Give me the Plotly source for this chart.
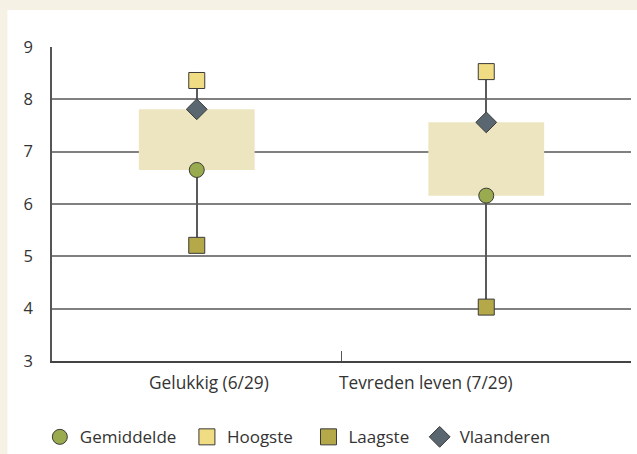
import plotly.graph_objects as go

categories = ["Gelukkig (6/29)", "Tevreden leven (7/29)"]
gemiddelde = [6.65, 6.16]
hoogste = [8.36, 8.53]
laagste = [5.21, 4.03]
vlaanderen = [7.81, 7.56]

FONT = "Open Sans"
fig = go.Figure()

# whisker from lowest to highest (drawn as thin bar so box covers it)
fig.add_trace(go.Bar(x=categories, y=[h - l for h, l in zip(hoogste, laagste)], base=laagste,
                     width=0.005, marker=dict(color="#5a5a5a", line=dict(width=0)),
                     showlegend=False, hoverinfo="skip"))
# box from mean to Vlaanderen
fig.add_trace(go.Bar(x=categories, y=[v - g for v, g in zip(vlaanderen, gemiddelde)], base=gemiddelde,
                     width=0.4, marker=dict(color="#ede5bf", line=dict(width=0)),
                     showlegend=False, hoverinfo="skip"))

outline = dict(color="#3a3a3a", width=1)
fig.add_trace(go.Scatter(x=categories, y=gemiddelde, mode="markers", name="Gemiddelde", legend="legend",
                         marker=dict(symbol="circle", size=15, color="#9aab4f", line=outline)))
fig.add_trace(go.Scatter(x=categories, y=hoogste, mode="markers", name="Hoogste", legend="legend2",
                         marker=dict(symbol="square", size=16, color="#f0dc82", line=outline)))
fig.add_trace(go.Scatter(x=categories, y=laagste, mode="markers", name="Laagste", legend="legend3",
                         marker=dict(symbol="square", size=16, color="#b5a848", line=outline)))
fig.add_trace(go.Scatter(x=categories, y=vlaanderen, mode="markers", name="Vlaanderen", legend="legend4",
                         marker=dict(symbol="diamond", size=16, color="#5a6670", line=outline)))

def leg(x):
    return dict(orientation="h", x=x, y=-0.243, xanchor="left", yanchor="middle",
                font=dict(family=FONT, size=17, color="#333333"), bgcolor="rgba(0,0,0,0)",
                itemclick=False)

# category label positions (paper fraction), as placed in the original
label_x = [0.271, 0.646]

fig.update_layout(
    width=637, height=454,
    margin=dict(l=52, r=6, t=47, b=93, autoexpand=False),
    paper_bgcolor="#f5f1e4",
    plot_bgcolor="white",
    barmode="overlay",
    font=dict(family=FONT, size=16, color="#333333"),
    showlegend=True,
    legend=leg(-0.021),
    legend2=leg(0.233),
    legend3=leg(0.443),
    legend4=leg(0.635),
    xaxis=dict(type="category", range=[-0.5, 1.5], tickson="boundaries", ticks="inside",
               ticklen=10, tickcolor="#555555", tickwidth=1.2, automargin=False,
               showline=True, linecolor="#444444", linewidth=1.5, showgrid=False,
               showticklabels=False),
    yaxis=dict(range=[3, 9], tickvals=[3, 4, 5, 6, 7, 8, 9], showgrid=True, automargin=False,
               gridcolor="#808080", gridwidth=1.5, showline=True, linecolor="#555555",
               linewidth=1.5, ticks="", ticklabelstandoff=14, zeroline=False,
               tickfont=dict(size=16.5)),
    annotations=[dict(text=c, xref="paper", yref="paper", x=lx, y=-0.067, xanchor="center",
                      yanchor="middle", showarrow=False, font=dict(family=FONT, size=17.3, color="#333333"))
                 for c, lx in zip(categories, label_x)],
    shapes=[dict(type="rect", xref="paper", yref="paper", x0=-0.077, x1=1.2, y0=-0.35, y1=1.118,
                 fillcolor="white", line=dict(width=0), layer="below")],
)

fig.write_html("out.html", config={"displayModeBar": False},
               post_script="document.body.style.margin='0';document.body.style.background='#f5f1e4';")
